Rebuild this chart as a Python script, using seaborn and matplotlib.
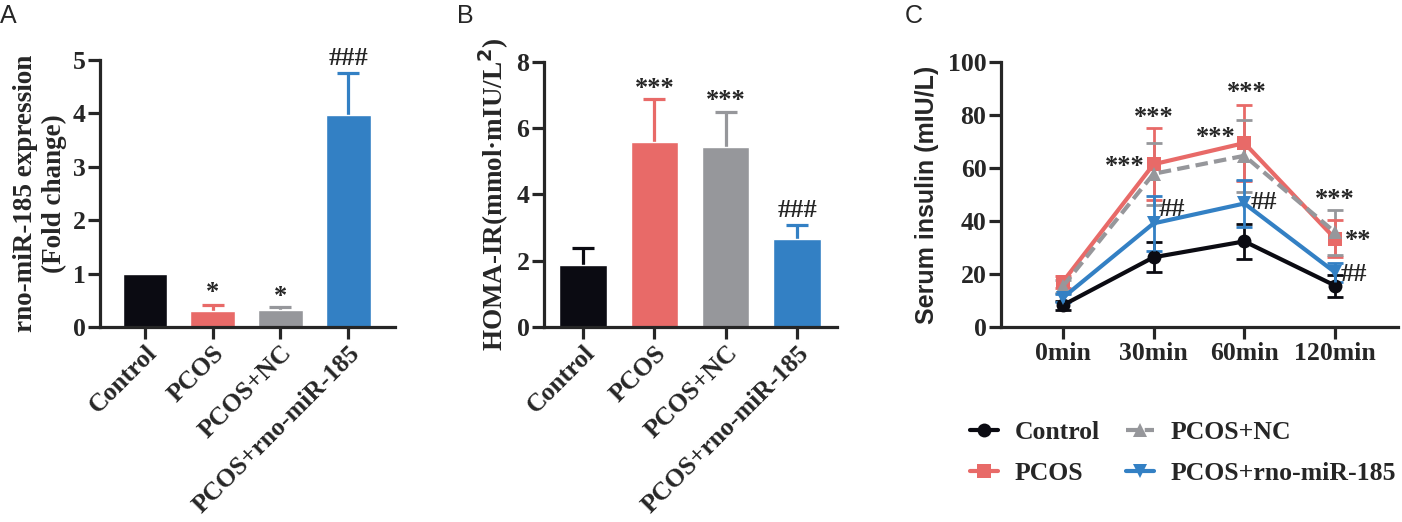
import numpy as np
import pandas as pd
import seaborn as sns
import matplotlib.pyplot as plt

groups = ["Control", "PCOS", "PCOS+NC", "PCOS+rno-miR-185"]
colors = ["#0b0b12", "#e86a68", "#96979b", "#3380c4"]

# panel A
mir_mean = [1.0, 0.30, 0.31, 3.97]
mir_err = [0.0, 0.12, 0.07, 0.78]
mir_marks = ["", "*", "*", "###"]
mir_mark_y = [0, 0.64, 0.57, 5.03]

# panel B
homa_mean = [1.87, 5.57, 5.43, 2.67]
homa_err = [0.50, 1.30, 1.07, 0.40]
homa_marks = ["", "***", "***", "###"]
homa_mark_y = [0, 7.2, 6.85, 3.51]

# panel C
times = ["0min", "30min", "60min", "120min"]
ins_mean = {
    "Control": [8.2, 26.3, 32.3, 15.6],
    "PCOS": [17.0, 61.4, 69.4, 33.3],
    "PCOS+NC": [15.3, 57.8, 64.6, 35.7],
    "PCOS+rno-miR-185": [11.0, 39.1, 46.6, 20.6],
}
ins_err = {
    "Control": [1.7, 5.6, 6.6, 4.1],
    "PCOS": [2.2, 13.6, 14.3, 6.9],
    "PCOS+NC": [2.5, 11.8, 13.6, 8.6],
    "PCOS+rno-miR-185": [1.6, 10.3, 9.0, 3.6],
}
ins_marks = ["***", "***", "***", "***", "##", "##", "***", "**", "##"]
ins_mark_x = [1.0, 0.68, 2.03, 1.69, 1.2, 2.22, 3.0, 3.25, 3.21]
ins_mark_y = [79.0, 60.7, 88.4, 71.4, 44.3, 46.8, 48.0, 32.7, 19.8]

sns.set_style("ticks")
plt.rcParams["font.family"] = ["Liberation Serif", "DejaVu Serif"]
plt.rcParams["font.weight"] = "bold"
plt.rcParams["axes.labelweight"] = "bold"

fig = plt.figure(figsize=(14.02, 5.22), dpi=100)
axA = fig.add_axes([0.0713, 0.3736, 0.2104, 0.5114])
axB = fig.add_axes([0.388, 0.3736, 0.209, 0.5077])
axC = fig.add_axes([0.714, 0.3736, 0.283, 0.5077])


def style(ax):
    for s in ["top", "right"]:
        ax.spines[s].set_visible(False)
    for s in ["left", "bottom"]:
        ax.spines[s].set_linewidth(2.3)
    ax.tick_params(width=2.3, length=8.5, labelsize=18.5, pad=2)


def bar_panel(ax, means, errs, marks, mark_y, ylim, ticks, ylabel, xlim):
    df = pd.DataFrame({"group": groups, "value": means})
    sns.barplot(data=df, x="group", y="value", hue="group", palette=colors,
                width=0.66, legend=False, ax=ax, saturation=1, zorder=2)
    for i, (m, e) in enumerate(zip(means, errs)):
        if e > 0:
            _, caps, _ = ax.errorbar(i, m, yerr=[[0], [e]], color=colors[i], capsize=8,
                                     capthick=2.3, elinewidth=2.3, zorder=1)
            caps[0].set_visible(False)
        if marks[i]:
            ax.text(i, mark_y[i], marks[i], ha="center", va="center",
                    fontsize=19, fontweight="bold")
    style(ax)
    ax.set_ylim(*ylim)
    ax.set_yticks(ticks)
    ax.set_xlim(*xlim)
    ax.set_xlabel("")
    ax.set_ylabel(ylabel, fontsize=19.5, labelpad=4)
    ax.set_xticks(range(4))
    ax.set_xticklabels(groups, rotation=45, ha="right", rotation_mode="anchor")


bar_panel(axA, mir_mean, mir_err, mir_marks, mir_mark_y, (0, 5), range(6),
          "rno-miR-185 expression\n(Fold change)", (-0.665, 3.69))
bar_panel(axB, homa_mean, homa_err, homa_marks, homa_mark_y, (0, 8), range(0, 9, 2),
          "HOMA-IR(mmol·mIU/L$^{\\mathbf{2}}$)", (-0.547, 3.56))

# panel C
rows = []
for g in groups:
    for i, t in enumerate(times):
        rows.append({"group": g, "pos": i, "value": ins_mean[g][i]})
ins_df = pd.DataFrame(rows)
markers = {"Control": "o", "PCOS": "s", "PCOS+NC": "^", "PCOS+rno-miR-185": "v"}
dashes = {"Control": "", "PCOS": "", "PCOS+NC": (3, 1.5), "PCOS+rno-miR-185": ""}
order_z = {"Control": 4, "PCOS": 3, "PCOS+NC": 2, "PCOS+rno-miR-185": 5}
for g, c in zip(groups, colors):
    axC.errorbar(range(4), ins_mean[g], yerr=ins_err[g], color=c, fmt="none",
                 capsize=6, capthick=2, elinewidth=2, zorder=order_z[g])
sns.lineplot(data=ins_df, x="pos", y="value", hue="group", style="group",
             palette=colors, markers=markers, dashes=dashes, linewidth=3,
             markersize=10, markeredgewidth=0, ax=axC, legend=True)
for line in axC.lines:
    line.set_zorder(4)
for t, x, y in zip(ins_marks, ins_mark_x, ins_mark_y):
    axC.text(x, y, t, ha="center", va="center", fontsize=19, fontweight="bold")
style(axC)
axC.set_ylim(0, 100)
axC.set_yticks(range(0, 101, 20))
axC.set_xlim(-0.68, 3.69)
axC.set_xticks(range(4))
axC.set_xticklabels(times)
axC.set_xlabel("")
axC.set_ylabel("Serum insulin (mIU/L)", fontsize=18, labelpad=6,
               family="Liberation Sans", fontweight="bold")
h, l = axC.get_legend_handles_labels()
axC.legend(h, l, ncol=2, frameon=False, fontsize=18.5, loc="upper left",
           bbox_to_anchor=(-0.078, -0.355), handlelength=1.1, columnspacing=1.0,
           handletextpad=0.65, labelspacing=0.68, borderaxespad=0, borderpad=0)

for letter, x in [("A", 0.0), ("B", 0.326), ("C", 0.645)]:
    fig.text(x, 0.992, letter, ha="left", va="top", fontsize=18,
             family="Liberation Sans", fontweight="normal")

fig.savefig("out.png", dpi=100)
